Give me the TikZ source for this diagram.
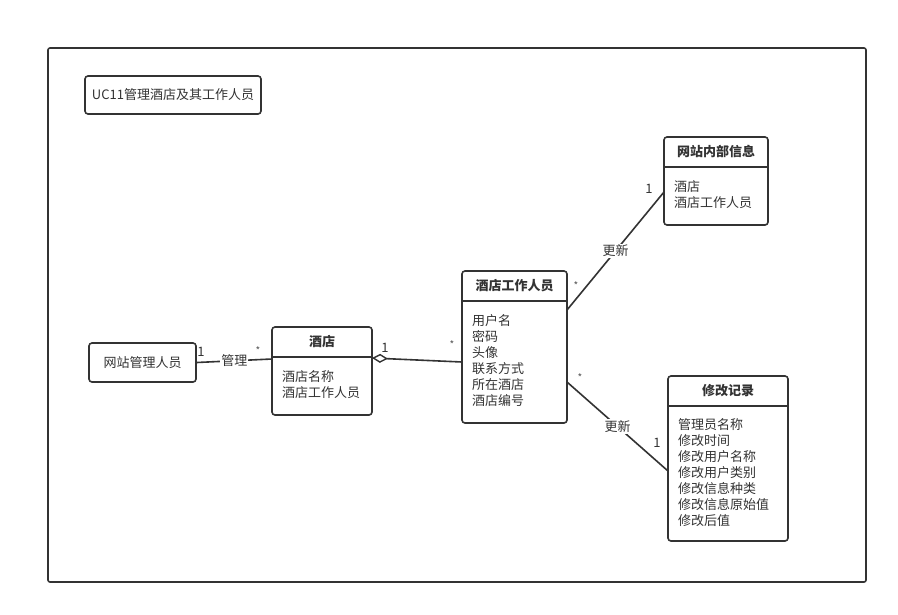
\documentclass[tikz,border=0pt]{standalone}
\usepackage{fontspec}
\setmainfont{Noto Sans CJK SC}
\usetikzlibrary{arrows.meta}
\definecolor{ink}{HTML}{333333}
\begin{document}
\begin{tikzpicture}[x=1pt,y=-1pt,
  box/.style={draw=ink,line width=1.6pt,rounded corners=3pt},
  lbl/.style={font=\fontsize{13}{16}\selectfont,text=ink,inner sep=1pt},
  ttl/.style={font=\fontsize{13}{16}\selectfont\bfseries,text=ink,inner sep=0pt},
  attr/.style={font=\fontsize{13}{16}\selectfont,text=ink,align=left,anchor=north west,inner sep=0pt},
  conn/.style={draw=ink,line width=1.6pt},
  mult/.style={font=\fontsize{13}{16}\selectfont,text=ink,inner sep=0pt},
  star/.style={font=\fontsize{10}{12}\selectfont,text=ink!80,inner sep=0pt},
  onl/.style={font=\fontsize{13}{16}\selectfont,text=ink,fill=white,inner sep=1pt}]
\useasboundingbox[fill=white] (0,0) rectangle (898,614);
% frame
\draw[draw=ink,line width=1.6pt,rounded corners=2pt] (48,48) rectangle (866,582);
% UC11 box
\node[box,minimum width=176pt,minimum height=38pt,lbl] (uc) at (173,95) {UC11管理酒店及其工作人员};
% admin
\node[box,minimum width=107pt,minimum height=39pt,lbl] (admin) at (142.5,362.5) {网站管理人员};
% hotel class
\draw[box] (272,327) rectangle (372,415);
\draw[draw=ink,line width=1.6pt] (272,357) -- (372,357);
\coordinate (hotelL) at (272,359);
\coordinate (hotelR) at (372,358);
\node[ttl] (hotelT) at (322,342) {酒店};
\node[attr] (hotelA) at (282,370) {酒店名称\\酒店工作人员};
% staff class
\draw[box] (462,271) rectangle (567,423);
\draw[draw=ink,line width=1.6pt] (462,301) -- (567,301);
\coordinate (staffL) at (462,362);
\coordinate (staffR1) at (567,310);
\coordinate (staffR2) at (567,382);
\node[ttl] (staffT) at (514.5,286) {酒店工作人员};
\node[attr] (staffA) at (472,314.5) {用户名\\密码\\头像\\联系方式\\所在酒店\\酒店编号};
% internal info class
\draw[box] (664,137) rectangle (768,225);
\draw[draw=ink,line width=1.6pt] (664,167) -- (768,167);
\coordinate (infoL) at (664,192);
\node[ttl] (infoT) at (716,152) {网站内部信息};
\node[attr] (infoA) at (674,180) {酒店\\酒店工作人员};
% log class
\draw[box] (668,376) rectangle (788,541);
\draw[draw=ink,line width=1.6pt] (668,406) -- (788,406);
\coordinate (logL) at (668,471);
\node[ttl] (logT) at (728,391) {修改记录};
\node[attr] (logA) at (678,418) {管理员名称\\修改时间\\修改用户名称\\修改用户类别\\修改信息种类\\修改信息原始值\\修改后值};
% connectors
\draw[conn] (admin.east) -- (hotelL) node[onl,midway] {管理};
\node[mult] at (201,352) {1};
\node[star] at (258,351) {*};
\draw[conn,{Diamond[open,fill=white,length=16pt,width=9pt,line width=1.4pt]}-] (hotelR) -- (staffL);
\node[mult] at (385,348) {1};
\node[star] at (452,345) {*};
\draw[conn] (staffR1) -- (infoL) node[onl,pos=0.5] {更新};
\node[star] at (576,286) {*};
\node[mult] at (649,189) {1};
\draw[conn] (staffR2) -- (logL) node[onl,pos=0.5] {更新};
\node[star] at (580,378) {*};
\node[mult] at (657,443) {1};
\end{tikzpicture}
\end{document}
